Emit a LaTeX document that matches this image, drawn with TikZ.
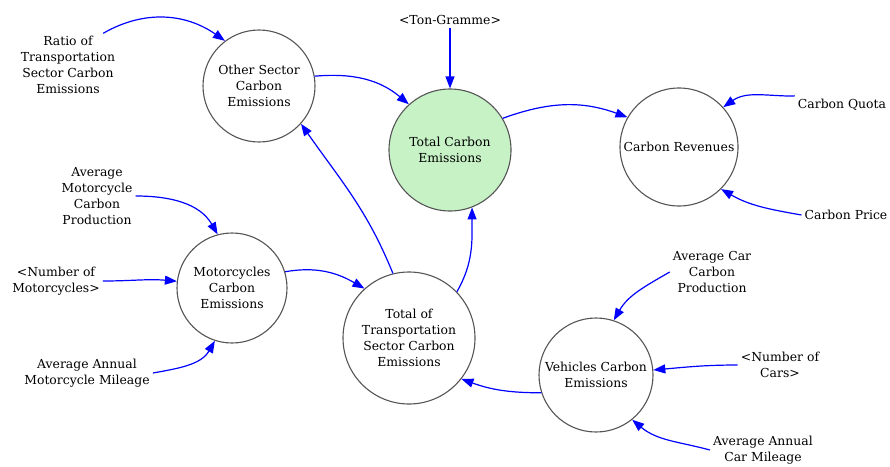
\documentclass[tikz,border=0pt]{standalone}
\usepackage{fontspec}
\setmainfont{DejaVu Serif}
\usetikzlibrary{arrows.meta}

\definecolor{stockgreen}{RGB}{198,242,198}
\definecolor{ringgray}{RGB}{85,85,85}

\begin{document}
\begin{tikzpicture}[x=1pt, y=-1pt,
    var/.style={circle, draw=ringgray, line width=1.1pt, align=center,
        inner sep=0pt, font=\fontsize{12.4}{15.8}\selectfont},
    aux/.style={align=center, inner sep=3pt, font=\fontsize{12.4}{15.8}\selectfont},
    link/.style={blue, line width=1.2pt, -{Triangle[length=12pt,width=9pt]}}]

    \useasboundingbox (0,0) rectangle (890,466);

    % ==========================================
    % CIRCLES: the computed variables
    % ==========================================
    \node[var, minimum size=112pt] (other) at (259,86) {Other Sector\\Carbon\\Emissions};
    \node[var, minimum size=122pt, fill=stockgreen] (total) at (450,150) {Total Carbon\\Emissions};
    \node[var, minimum size=118pt] (rev) at (679,147) {Carbon Revenues};
    \node[var, minimum size=110pt] (moto) at (232,288) {Motorcycles\\Carbon\\Emissions};
    \node[var, minimum size=132pt] (trans) at (409,338) {Total of\\Transportation\\Sector Carbon\\Emissions};
    \node[var, minimum size=114pt] (veh) at (596,375) {Vehicles Carbon\\Emissions};

    % ==========================================
    % INPUTS: plain text
    % ==========================================
    \node[aux] (ratio) at (68,65) {Ratio of\\Transportation\\Sector Carbon\\Emissions};
    \node[aux] (ton) at (450,20) {<Ton-Gramme>};
    \node[aux] (quota) at (842,105) {Carbon Quota};
    \node[aux] (price) at (846,215) {Carbon Price};
    \node[aux] (amcp) at (97,196) {Average\\Motorcycle\\Carbon\\Production};
    \node[aux] (nummoto) at (56,281) {<Number of\\Motorcycles>};
    \node[aux] (aamm) at (87,373) {Average Annual\\Motorcycle Mileage};
    \node[aux] (accp) at (712,272) {Average Car\\Carbon\\Production};
    \node[aux] (numcars) at (780,365) {<Number of\\Cars>};
    \node[aux] (aacm) at (763,450) {Average Annual\\Car Mileage};

    % ==========================================
    % LINKS
    % ==========================================
    \draw[link] (ratio.42) to[out=30, in=145] (other.127);
    \draw[link] (other.10) to[out=5, in=140] (total.132);
    \draw[link] (ton.south) -- (total.north);
    \draw[link] (total.31) to[out=20, in=160] (rev.150);
    \draw[link] (quota.north west) to[out=180, in=35] (rev.42);
    \draw[link] (price.west) to[out=170, in=-30] (rev.-45);

    \draw[link] (amcp.east) to[out=0, in=120] (moto.105);
    \draw[link] (nummoto.east) to[out=0, in=175] (moto.173);
    \draw[link] (aamm.east) to[out=10, in=-120] (moto.-108);
    \draw[link] (moto.17) to[out=10, in=150] (trans.132);

    \draw[link] (trans.104) to[out=112, in=-55] (other.-42);
    \draw[link] (trans.44) to[out=60, in=-90] (total.-69);

    \draw[link] (veh.-162) to[out=180, in=-20] (trans.-38);
    \draw[link] (accp.west) to[out=210, in=60] (veh.72);
    \draw[link] (numcars.west) to[out=180, in=5] (veh.5);
    \draw[link] (aacm.west) to[out=165, in=-40] (veh.-51);

\end{tikzpicture}
\end{document}
